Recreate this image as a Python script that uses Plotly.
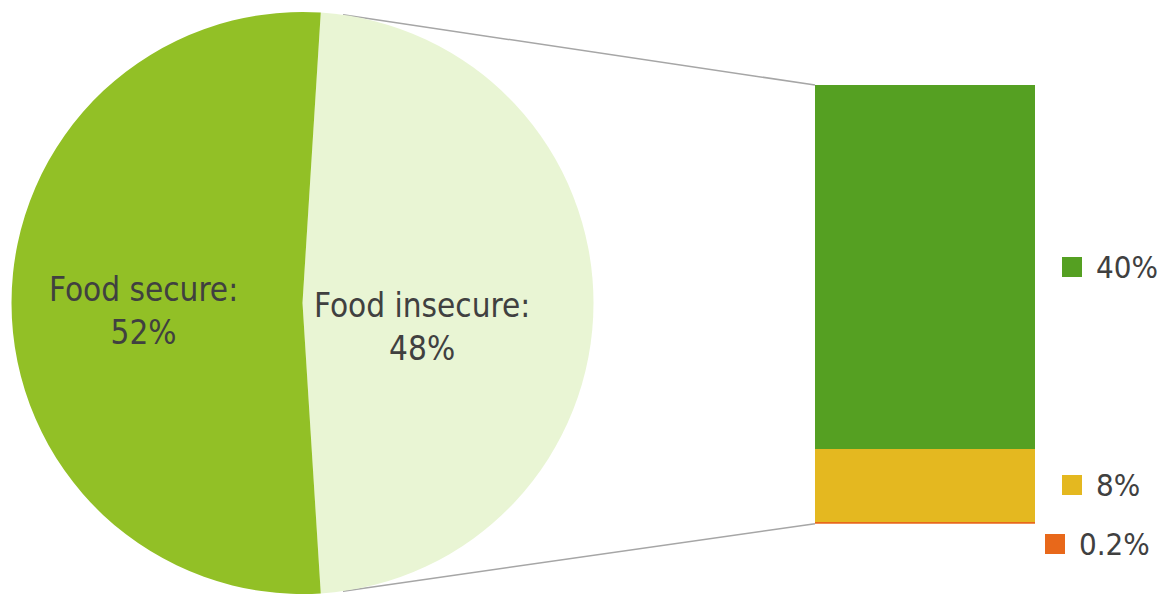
import math
import plotly.graph_objects as go

# Share of households by food security status
pie_labels = ["Food insecure", "Food secure"]
pie_values = [48, 52]
pie_colors = ["#E9F5D4", "#92C026"]

# Breakdown of the food-insecure share (stacked from the bottom up)
bar_labels = ["0.2%", "8%", "40%"]
bar_values = [0.2, 8, 40]
bar_colors = ["#E8681A", "#E4B820", "#55A022"]

W, H = 1161, 594
FONT = "DejaVu Sans Condensed, DejaVu Sans, sans-serif"
TEXT = "#404040"

# pie placement (pixels)
cx, cy, r = 302.5, 303.0, 291.0
# bar placement (pixels)
bx0, bx1, by_top, by_bot = 815, 1035, 85, 523.7

total = sum(bar_values)
start_deg = 90 - pie_values[0] / sum(pie_values) * 360 / 2

fig = go.Figure()

fig.add_trace(go.Pie(
    labels=pie_labels, values=pie_values, sort=False,
    direction="clockwise", rotation=start_deg,
    marker=dict(colors=pie_colors, line=dict(width=0)),
    textinfo="none", hoverinfo="label+percent", showlegend=False,
    domain=dict(x=[(cx - r) / W, (cx + r) / W], y=[(H - cy - r) / H, (H - cy + r) / H]),
))

for lab, val, col in zip(bar_labels, bar_values, bar_colors):
    fig.add_trace(go.Bar(
        x=[0], y=[val], width=1, name=lab, marker=dict(color=col, line=dict(width=0)),
        xaxis="x", yaxis="y", showlegend=False, hoverinfo="name",
    ))

fig.update_layout(
    width=W, height=H, margin=dict(l=0, r=0, t=0, b=0),
    paper_bgcolor="white", plot_bgcolor="rgba(0,0,0,0)",
    barmode="stack", bargap=0,
    xaxis=dict(domain=[bx0 / W, bx1 / W], range=[-0.5, 0.5], visible=False, fixedrange=True),
    yaxis=dict(domain=[(H - by_bot) / H, (H - by_top) / H], range=[0, total], visible=False, fixedrange=True),
    font=dict(family=FONT, color=TEXT),
)

# pie labels
pie_label_pos = {"Food secure": (143.5, 311), "Food insecure": (422, 327)}
for lab, val in zip(pie_labels, pie_values):
    px, py = pie_label_pos[lab]
    fig.add_annotation(
        text=f"{lab}:<br>{val}%", x=px / W, y=(H - py) / H, xref="paper", yref="paper",
        xanchor="center", yanchor="middle", showarrow=False,
        font=dict(size=33, color=TEXT, family=FONT),
    )

# legend keys with value labels beside each segment
cum = 0
for i, (lab, val, col) in enumerate(zip(bar_labels, bar_values, bar_colors)):
    mid = cum + val / 2
    cum += val
    small = i == 0
    key_x = 1055 if small else 1072
    shift = -21 if small else 0
    fig.add_annotation(
        text=" ", x=key_x / W, y=mid, xref="paper", yref="y",
        xanchor="center", yanchor="middle", yshift=shift, showarrow=False,
        width=20, height=20, bgcolor=col, borderpad=0, borderwidth=0,
        font=dict(size=8),
    )
    fig.add_annotation(
        text=lab, x=(key_x + 22) / W, y=mid, xref="paper", yref="y",
        xanchor="left", yanchor="middle", yshift=shift, showarrow=False,
        font=dict(size=31, color=TEXT, family=FONT),
    )

# connector lines from the pie rim to the bar corners
for ang, by in ((8, by_top), (172, by_bot)):
    a = math.radians(ang)
    fig.add_shape(
        type="line", xref="paper", yref="paper",
        x0=(cx + r * math.sin(a)) / W, y0=(H - (cy - r * math.cos(a))) / H,
        x1=bx0 / W, y1=(H - by) / H,
        line=dict(color="#A6A6A6", width=1.5), layer="below",
    )

fig.write_html("out.html")
